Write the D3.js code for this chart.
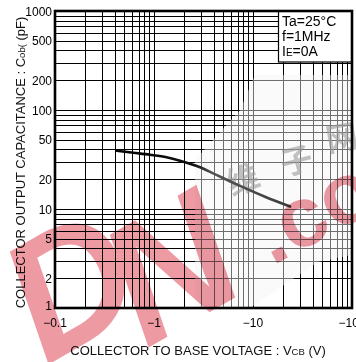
<!DOCTYPE html>
<html>
<head>
<meta charset="utf-8">
<script src="https://cdn.jsdelivr.net/npm/d3@7"></script>
<style>
  body { margin: 0; background: #fff; }
  svg { display: block; font-family: "Liberation Sans", Arial, sans-serif; }
</style>
</head>
<body>
<div id="chart"></div>
<script>
// values
const vcb = [0.42, 0.62, 0.91, 1.34, 1.83, 2.92, 4.1, 7.4, 13.2, 23.7];
const cob = [38.8, 37.0, 35.3, 33.3, 30.8, 26.4, 22.5, 17.1, 13.3, 10.6];
const xTickValues = [0.1, 1, 10, 100];
const xTickLabels = ["\u22120.1", "\u22121", "\u221210", "\u2212100"];
const yTickValues = [1, 2, 5, 10, 20, 50, 100, 200, 500, 1000];
const legendLines = ["Ta=25\u00B0C", "f=1MHz", "I|E|=0A"];

const W = 356, H = 362;
const margin = { top: 11, right: 4, bottom: 54, left: 55 };

const svg = d3.select("#chart").append("svg")
  .attr("width", W)
  .attr("height", H);

const x = d3.scaleLog().domain([0.1, 100]).range([margin.left, W - margin.right]);
const y = d3.scaleLog().domain([1, 1000]).range([H - margin.bottom, margin.top]);

// grid
const grid = svg.append("g").attr("shape-rendering", "crispEdges");
grid.selectAll("line.v")
  .data(x.ticks())
  .enter().append("line")
  .attr("class", "v")
  .attr("x1", d => Math.round(x(d)) + 0.5)
  .attr("x2", d => Math.round(x(d)) + 0.5)
  .attr("y1", y(1000))
  .attr("y2", y(1))
  .attr("stroke", "#000")
  .attr("stroke-width", 1);
grid.selectAll("line.h")
  .data(y.ticks())
  .enter().append("line")
  .attr("class", "h")
  .attr("y1", d => Math.round(y(d)) + 0.5)
  .attr("y2", d => Math.round(y(d)) + 0.5)
  .attr("x1", x(0.1))
  .attr("x2", x(100))
  .attr("stroke", "#000")
  .attr("stroke-width", 1);

// light grey wash of the scanned sheet (makes lines grey on the right)
svg.append("path")
  .attr("d", "M255,75 L352,75 L352,255 L318,262 L250,308 L195,308 L195,160 L240,110 Z")
  .attr("fill", "#f4f4f4")
  .attr("opacity", 0.45);

// chinese grey watermark
svg.append("g")
  .attr("fill", "#9a9a9a")
  .attr("opacity", 0.6)
  .style("font-family", "'Noto Sans CJK SC', sans-serif")
  .style("font-weight", "bold")
  .style("font-size", "32px")
  .selectAll("text")
  .data([["维", 232, 196, -20], ["子", 284, 176, -15], ["网", 328, 152, -10]])
  .enter().append("text")
  .attr("transform", d => `translate(${d[1]},${d[2]}) rotate(${d[3]})`)
  .text(d => d[0]);

// curve
const grad = svg.append("defs").append("linearGradient")
  .attr("id", "curveGrad")
  .attr("gradientUnits", "userSpaceOnUse")
  .attr("x1", x(0.4)).attr("x2", x(25)).attr("y1", 0).attr("y2", 0);
grad.append("stop").attr("offset", "0").attr("stop-color", "#000");
grad.append("stop").attr("offset", "0.45").attr("stop-color", "#111");
grad.append("stop").attr("offset", "0.55").attr("stop-color", "#555");
grad.append("stop").attr("offset", "1").attr("stop-color", "#3a3a3a");

const line = d3.line()
  .x(d => x(d[0]))
  .y(d => y(d[1]))
  .curve(d3.curveMonotoneX);
svg.append("path")
  .datum(d3.zip(vcb, cob))
  .attr("d", line)
  .attr("fill", "none")
  .attr("stroke", "url(#curveGrad)")
  .attr("stroke-width", 2.6)
  .attr("stroke-linecap", "round");

// legend box
const lg = svg.append("g");
lg.append("rect")
  .attr("x", 278.5).attr("y", 11)
  .attr("width", 73.5).attr("height", 51)
  .attr("fill", "#fff")
  .attr("stroke", "#000")
  .attr("stroke-width", 1.2);
legendLines.forEach((s, i) => {
  const t = lg.append("text")
    .attr("x", 282)
    .attr("y", 26 + i * 15)
    .style("font-size", "14px")
    .attr("fill", "#000");
  const parts = s.split("|");
  parts.forEach((p, j) => {
    t.append("tspan").style("font-size", j === 1 ? "10px" : "14px").text(p);
  });
});

// frame
svg.append("rect")
  .attr("x", x(0.1)).attr("y", y(1000))
  .attr("width", x(100) - x(0.1))
  .attr("height", y(1) - y(1000))
  .attr("fill", "none")
  .attr("stroke", "#000")
  .attr("stroke-width", 2.6);

// y tick labels
svg.append("g")
  .selectAll("text")
  .data(yTickValues)
  .enter().append("text")
  .attr("x", x(0.1) - 3)
  .attr("y", d => y(d) + (d === 1 ? 2 : 4.5))
  .attr("text-anchor", "end")
  .style("font-size", "12px")
  .attr("fill", "#000")
  .text(d => d);

// x tick labels
svg.append("g")
  .selectAll("text")
  .data(xTickValues)
  .enter().append("text")
  .attr("x", d => x(d))
  .attr("y", y(1) + 19)
  .attr("text-anchor", "middle")
  .style("font-size", "12px")
  .attr("fill", "#000")
  .text((d, i) => xTickLabels[i]);

// axis titles
const xt = svg.append("text")
  .attr("x", 198)
  .attr("y", 355)
  .attr("text-anchor", "middle")
  .style("font-size", "13px")
  .attr("fill", "#111");
xt.append("tspan").text("COLLECTOR TO BASE VOLTAGE : V");
xt.append("tspan").style("font-size", "9.5px").text("CB");
xt.append("tspan").text(" (V)");

const yt = svg.append("text")
  .attr("transform", `translate(25,${(y(1) + y(1000)) / 2 + 3}) rotate(-90)`)
  .attr("text-anchor", "middle")
  .style("font-size", "13px")
  .attr("fill", "#111");
yt.append("tspan").text("COLLECTOR OUTPUT CAPACITANCE : C");
yt.append("tspan").style("font-size", "9.5px").text("ob(");
yt.append("tspan").text(" (pF)");

// red watermark on top
const wm = svg.append("g")
  .style("mix-blend-mode", "multiply")
  .attr("fill", "rgb(214,30,50)")
  .attr("opacity", 0.45)
  .style("font-weight", "bold")
  .style("font-family", "'Liberation Sans', Arial, sans-serif");
wm.selectAll("text.big")
  .data([["P", -66, 430], ["D", 46, 366], ["N", 146, 349]])
  .enter().append("text")
  .attr("class", "big")
  .attr("transform", d => `translate(${d[1]},${d[2]}) rotate(-30)`)
  .style("font-size", "170px")
  .style("font-style", "italic")
  .text(d => d[0]);
wm.append("text")
  .attr("transform", "translate(272,266) rotate(-28)")
  .style("font-size", "86px")
  .text(".co");
</script>
</body>
</html>
